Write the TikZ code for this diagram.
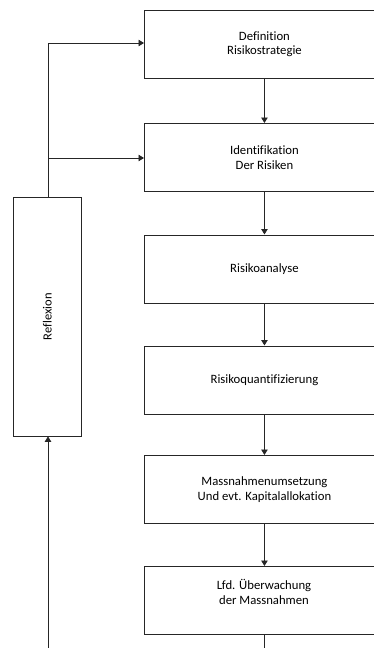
\documentclass[tikz,border=0pt]{standalone}
\usepackage{fontspec}
\setmainfont[Ligatures=NoCommon]{Carlito}
\usetikzlibrary{arrows.meta}
\begin{document}
\begin{tikzpicture}[x=1pt,y=-1pt,
  stepbox/.style={draw=black!85,line width=0.9pt,minimum width=240pt,minimum height=68pt,inner sep=0pt,anchor=north west,font=\fontsize{12.7}{14.5}\selectfont,align=center},
  conn/.style={draw=black!85,line width=0.9pt,-{Triangle[length=5.5pt,width=6.5pt]}},
  plain/.style={draw=black!85,line width=0.9pt}]
\useasboundingbox (0,0) rectangle (374,648);
\begin{scope}
\clip (0,0) rectangle (374,648);
\node[stepbox] (b1) at (144,10) {Definition\\Risikostrategie};
\node[stepbox] (b2) at (144,123) {Identifikation\\Der Risiken};
\node[stepbox] (b3) at (144,234.5) {Risikoanalyse};
\node[stepbox] (b4) at (144,345.5) {Risikoquantifizierung};
\node[stepbox] (b5) at (144,455) {Massnahmenumsetzung\\Und evt. Kapitalallokation};
\node[stepbox] (b6) at (144,566) {};
\node[font=\fontsize{12.7}{14.5}\selectfont,align=center] (b6t) at (264,592) {Lfd. Überwachung\\der Massnahmen};
\node[draw=black!85,line width=0.9pt,minimum width=68pt,minimum height=238.5pt,inner sep=0pt,anchor=north west] (r) at (13,197) {};
\node[rotate=90,font=\fontsize{12.5}{14}\selectfont] (rt) at (r.center) {Reflexion};
\draw[conn] (b1.south) -- (b2.north);
\draw[conn] (b2.south) -- (b3.north);
\draw[conn] (b3.south) -- (b4.north);
\draw[conn] (b4.south) -- (b5.north);
\draw[conn] (b5.south) -- (b6.north);
\coordinate (bot6) at (b6.south |- 0,660);
\draw[plain] (b6.south) -- (bot6);
\coordinate (top) at (48,43);
\coordinate (mid) at (48,158);
\draw[plain] (r.north -| top) -- (top);
\draw[conn] (top) -- (top -| b1.west);
\draw[conn] (mid) -- (mid -| b2.west);
\coordinate (botr) at (48,660);
\draw[conn] (botr) -- (botr |- r.south);
\end{scope}
\end{tikzpicture}
\end{document}
